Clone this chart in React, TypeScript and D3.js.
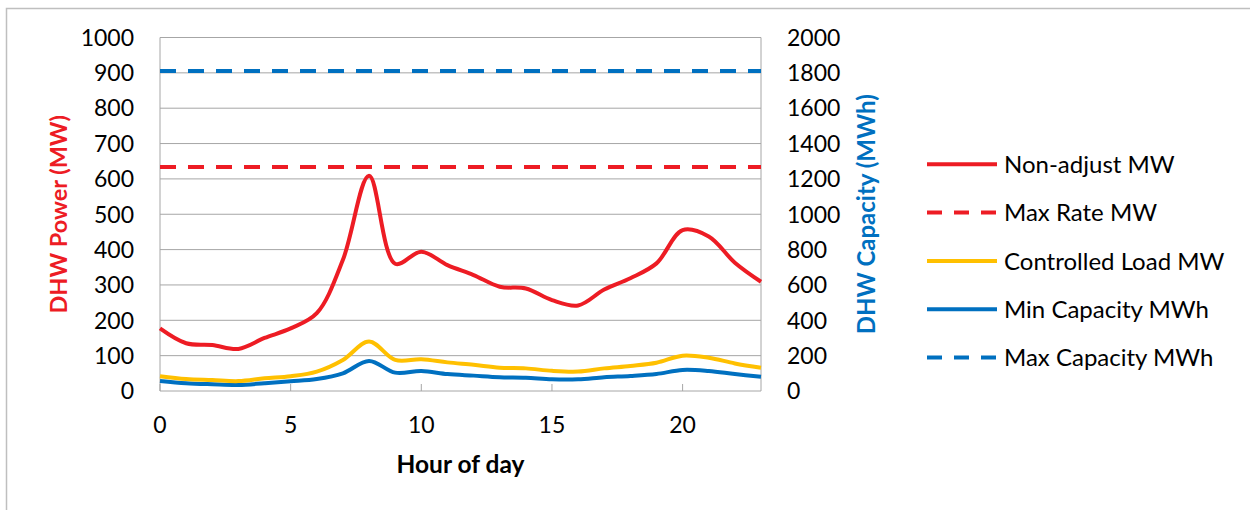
import React from 'react';
import * as d3 from 'd3';

const hours = d3.range(0, 24);

const nonAdjustMW = [177, 135, 130, 119, 150, 177, 220, 371, 609, 360, 394, 356, 328, 295, 290, 257, 242, 287, 319, 361, 455, 437, 363, 309];
const controlledLoadMW = [42, 34, 31, 28, 36, 42, 55, 88, 140, 88, 90, 81, 74, 66, 64, 57, 55, 64, 71, 80, 100, 94, 78, 66];
const minCapacityMWh = [57, 44, 38, 34, 44, 55, 68, 100, 170, 104, 113, 96, 87, 78, 75, 66, 66, 78, 85, 96, 119, 113, 96, 81];
const maxRateMW = 634;
const maxCapacityMWh = 1810;

const leftTicks = d3.range(0, 1001, 100);
const rightTicks = d3.range(0, 2001, 200);
const xTicks = [0, 5, 10, 15, 20];

const RED = '#ED1C24';
const YELLOW = '#FFC000';
const BLUE = '#0070C0';
const GRID = '#A6A6A6';
const FONT = 'Lato, "Open Sans", sans-serif';

const legendItems = [
  { label: 'Non-adjust MW', color: RED, dash: null },
  { label: 'Max Rate MW', color: RED, dash: '15,12' },
  { label: 'Controlled Load MW', color: YELLOW, dash: null },
  { label: 'Min Capacity MWh', color: BLUE, dash: null },
  { label: 'Max Capacity MWh', color: BLUE, dash: '15,12' },
];

const App: React.FC = () => {
  const width = 1250;
  const height = 510;
  const plot = { left: 160, right: 761, top: 37.5, bottom: 391 };

  const x = d3.scaleLinear().domain([0, 23]).range([plot.left, plot.right]);
  const yL = d3.scaleLinear().domain([0, 1000]).range([plot.bottom, plot.top]);
  const yR = d3.scaleLinear().domain([0, 2000]).range([plot.bottom, plot.top]);

  const lineL = d3.line<number>()
    .x((_, i) => x(hours[i]))
    .y(d => yL(d))
    .curve(d3.curveCatmullRom.alpha(0.5));
  const lineR = d3.line<number>()
    .x((_, i) => x(hours[i]))
    .y(d => yR(d))
    .curve(d3.curveCatmullRom.alpha(0.5));

  const midY = (plot.top + plot.bottom) / 2;

  return (
    <svg width={width} height={height} style={{ position: 'absolute', left: 0, top: 0, background: '#fff' }}>
      <rect x={6.5} y={8.5} width={1300} height={600} fill="#fff" stroke="#BFBFBF" strokeWidth={1.5} />

      {/* grid */}
      {leftTicks.map(t => (
        <line key={'g' + t} x1={plot.left} x2={plot.right} y1={yL(t)} y2={yL(t)} stroke={GRID} strokeWidth={1} />
      ))}
      <line x1={plot.left} x2={plot.left} y1={plot.top} y2={plot.bottom} stroke={GRID} strokeWidth={1} />
      <line x1={plot.right} x2={plot.right} y1={plot.top} y2={plot.bottom} stroke={GRID} strokeWidth={1} />
      {xTicks.map(t => (
        <line key={'xt' + t} x1={x(t)} x2={x(t)} y1={plot.bottom} y2={plot.bottom - 7} stroke={GRID} strokeWidth={1} />
      ))}

      {/* tick labels */}
      {leftTicks.map(t => (
        <text key={'l' + t} x={134} y={yL(t)} dy="0.36em" textAnchor="end" fontFamily={FONT} fontSize={23} fill="#000">{t}</text>
      ))}
      {rightTicks.map(t => (
        <text key={'r' + t} x={787} y={yR(t)} dy="0.36em" textAnchor="start" fontFamily={FONT} fontSize={23} fill="#000">{t}</text>
      ))}
      {xTicks.map(t => (
        <text key={'x' + t} x={x(t)} y={433} textAnchor="middle" fontFamily={FONT} fontSize={23} fill="#000">{t}</text>
      ))}

      {/* axis titles */}
      <text transform={`translate(67,${midY}) rotate(-90)`} textAnchor="middle" fontFamily={FONT} fontWeight="bold" fontSize={23.5} fill={RED}>DHW Power (MW)</text>
      <text transform={`translate(875,${midY}) rotate(-90)`} textAnchor="middle" fontFamily={FONT} fontWeight="bold" fontSize={24} fill={BLUE}>DHW Capacity (MWh)</text>
      <text x={(plot.left + plot.right) / 2} y={473} textAnchor="middle" fontFamily={FONT} fontWeight="bold" fontSize={24.5} fill="#000">Hour of day</text>

      {/* series */}
      <line x1={plot.left} x2={plot.right} y1={yR(maxCapacityMWh)} y2={yR(maxCapacityMWh)} stroke={BLUE} strokeWidth={4} strokeDasharray="16,12" />
      <line x1={plot.left} x2={plot.right} y1={yL(maxRateMW)} y2={yL(maxRateMW)} stroke={RED} strokeWidth={4} strokeDasharray="16,12" />
      <path d={lineR(minCapacityMWh) || ''} fill="none" stroke={BLUE} strokeWidth={4} strokeLinejoin="round" />
      <path d={lineL(controlledLoadMW) || ''} fill="none" stroke={YELLOW} strokeWidth={4} strokeLinejoin="round" />
      <path d={lineL(nonAdjustMW) || ''} fill="none" stroke={RED} strokeWidth={4} strokeLinejoin="round" />

      {/* legend */}
      {legendItems.map((d, i) => {
        const ly = 164.3 + i * 48.3;
        return (
          <g key={d.label}>
            <line x1={927} x2={997} y1={ly} y2={ly} stroke={d.color} strokeWidth={4} strokeDasharray={d.dash || undefined} />
            <text x={1004} y={ly} dy="0.36em" fontFamily={FONT} fontSize={24} fill="#000">{d.label}</text>
          </g>
        );
      })}
    </svg>
  );
};

export default App;
